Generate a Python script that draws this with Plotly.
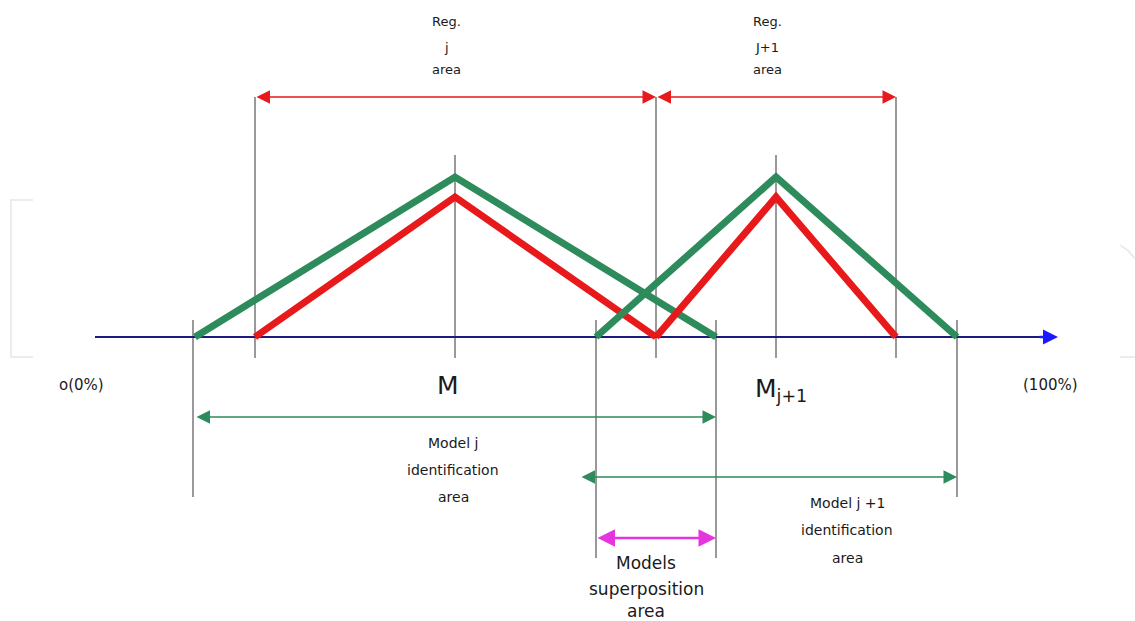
import plotly.graph_objects as go

# ---- data (x in diagram units along the axis, y = membership degree) ----
green_j_x = [195, 455, 716]
green_j_y = [0, 1.0, 0]
red_j_x = [255, 455, 656]
red_j_y = [0, 0.875, 0]
green_j1_x = [596, 776, 957]
green_j1_y = [0, 1.0, 0]
red_j1_x = [656, 776, 896]
red_j1_y = [0, 0.875, 0]

axis_start, axis_end = 95, 1058

# vertical guide lines: x, y_top, y_bottom
vlines_x = [193, 255, 455, 596, 656, 716, 776, 896, 957]
vlines_top = [0.106, 1.5, 1.1375, 0.106, 1.5, 0.106, 1.1375, 1.5, 0.106]
vlines_bot = [-1.0, -0.131, -0.131, -1.381, -0.131, -1.381, -0.131, -0.131, -1.0]

# range arrows: (x_start, x_end, y)
reg_arrows = [(255, 656, 1.5), (656, 896, 1.5)]
model_j_arrow = (195, 716, -0.5)
model_j1_arrow = (580, 957, -0.875)
superpos_arrow = (596, 716, -1.256)

GREEN = "#2e8b5c"
RED = "#e8191b"
MAGENTA = "#e535e0"
NAVY = "#1c1c80"
BLUE = "#1a1aff"

fig = go.Figure()

# faint watermark brackets
fig.add_trace(go.Scatter(x=[33, 11, 11, 33], y=[0.856, 0.856, -0.125, -0.125], mode="lines",
                         line=dict(color="#ececec", width=2), hoverinfo="skip", showlegend=False))
fig.add_trace(go.Scatter(x=[1120, 1128, 1135, None, 1120, 1135], y=[0.575, 0.54, 0.49, None, -0.125, -0.125],
                         mode="lines", line=dict(color="#ececec", width=2), hoverinfo="skip", showlegend=False))

# vertical lines
vx, vy = [], []
for x, t, b in zip(vlines_x, vlines_top, vlines_bot):
    vx += [x, x, None]
    vy += [t, b, None]
fig.add_trace(go.Scatter(x=vx, y=vy, mode="lines", line=dict(color="#555555", width=1.2),
                         hoverinfo="skip", showlegend=False))

# horizontal axis
fig.add_trace(go.Scatter(x=[axis_start, axis_end - 12], y=[0, 0], mode="lines",
                         line=dict(color=NAVY, width=2), hoverinfo="skip", showlegend=False))

# membership functions
for xs, ys, c in [(green_j_x, green_j_y, GREEN), (red_j_x, red_j_y, RED),
                  (red_j1_x, red_j1_y, RED), (green_j1_x, green_j1_y, GREEN)]:
    fig.add_trace(go.Scatter(x=xs, y=ys, mode="lines", line=dict(color=c, width=7),
                             hoverinfo="skip", showlegend=False))

ann = []
def darrow(x0, x1, y, color, width=1.5, size=1.6):
    ann.append(dict(x=x1, y=y, ax=x0, ay=y, xref="x", yref="y", axref="x", ayref="y",
                    showarrow=True, arrowhead=2, arrowside="end+start", arrowsize=size,
                    arrowwidth=width, arrowcolor=color, text="", font=dict(size=1)))

for x0, x1, y in reg_arrows:
    darrow(x0, x1, y, RED, 1.5, 1.8)
darrow(*model_j_arrow, GREEN, 1.5, 1.8)
darrow(*model_j1_arrow, GREEN, 1.5, 1.8)
darrow(*superpos_arrow, MAGENTA, 2.5, 1.4)
# axis arrow head
ann.append(dict(x=axis_end, y=0, ax=axis_end - 20, ay=0, xref="x", yref="y", axref="x", ayref="y",
                showarrow=True, arrowhead=2, arrowsize=1.2, arrowwidth=2.5, arrowcolor=BLUE,
                text="", font=dict(size=1)))

FONT = "DejaVu Sans"
def label(x, y, text, size=13, color="#1a1a1a"):
    ann.append(dict(x=x, y=y, xref="x", yref="y", text=text, showarrow=False,
                    font=dict(family=FONT, size=size, color=color), align="center"))

# region labels (one annotation per line)
for txt, yy in zip(["Reg.", "j", "area"], [1.969, 1.8125, 1.669]):
    label(446, yy, txt, 13)
for txt, yy in zip(["Reg.", "J+1", "area"], [1.969, 1.8125, 1.669]):
    label(767, yy, txt, 13)

label(81, -0.3, "o(0%)", 15)
label(1050, -0.3, "(100%)", 15)
label(448, -0.3, "M", 25)
label(781, -0.33, "M<sub>j+1</sub>", 25)

for txt, yy in zip(["Model j", "identification", "area"], [-0.6625, -0.83125, -1.0]):
    label(453, yy, txt, 14)
for txt, yy in zip(["Model j +1", "identification", "area"], [-1.0375, -1.206, -1.381]):
    label(847, yy, txt, 14)
for txt, yy in zip(["Models", "superposition", "area"], [-1.4125, -1.575, -1.71]):
    label(646, yy, txt, 17)

fig.update_layout(
    width=1135, height=621,
    margin=dict(l=0, r=0, t=0, b=0),
    paper_bgcolor="white", plot_bgcolor="white",
    xaxis=dict(range=[0, 1135], visible=False, fixedrange=True),
    yaxis=dict(range=[-1.775, 2.10625], visible=False, fixedrange=True),
    annotations=ann,
    showlegend=False,
)

fig.write_html("out.html", config={"displayModeBar": False},
               post_script="document.body.style.margin='0';document.body.style.padding='0';document.body.style.overflow='hidden';")
